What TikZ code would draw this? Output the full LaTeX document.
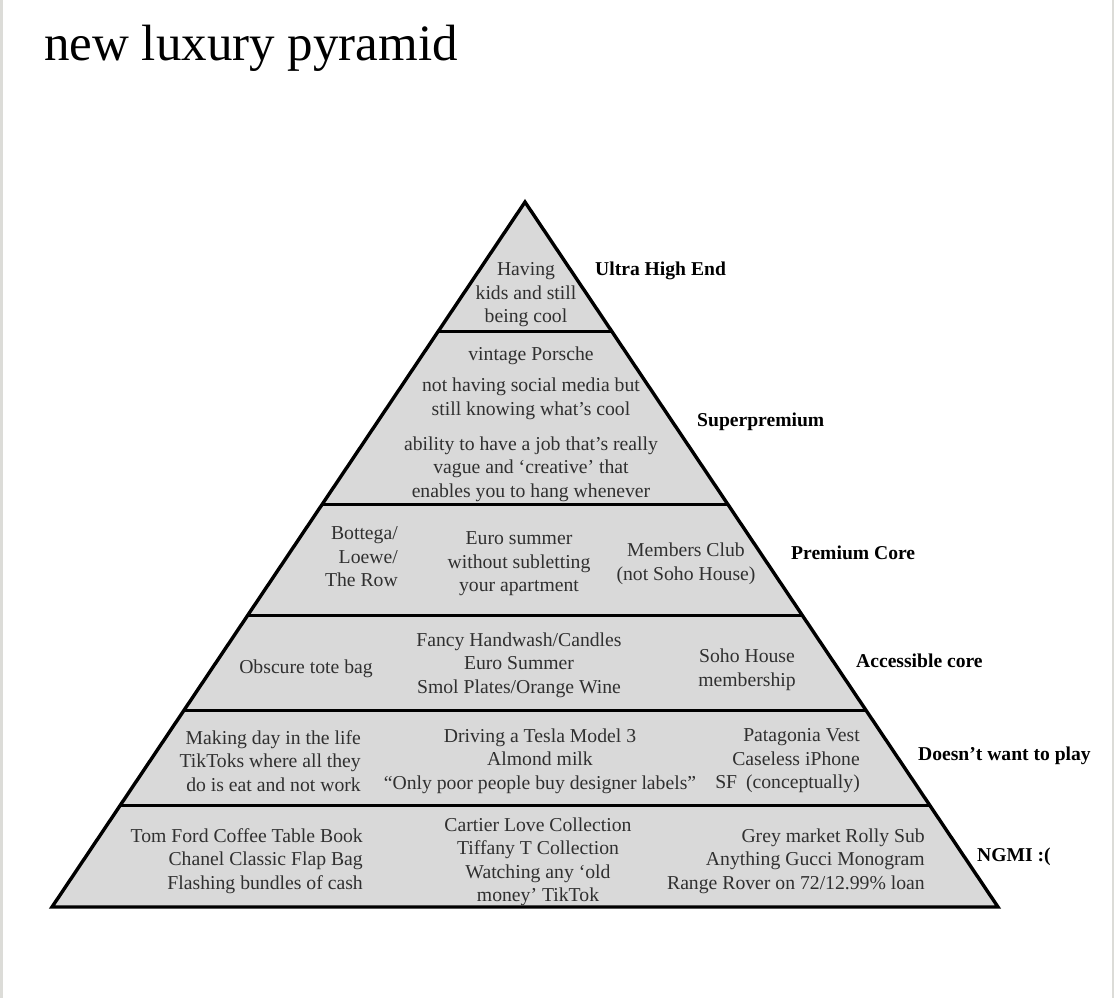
\documentclass[tikz,border=0pt]{standalone}
\usepackage{fontspec}
\setmainfont{Liberation Serif}
\usetikzlibrary{calc}
\definecolor{fillgray}{RGB}{217,217,217}
\definecolor{txtgray}{RGB}{48,48,48}
\definecolor{edgegray}{RGB}{220,220,216}
\begin{document}
\begin{tikzpicture}[x=1pt,y=-1pt,
  item/.style={inner sep=0pt,align=center,text=txtgray,font=\fontsize{19.7}{23.5}\selectfont},
  itemr/.style={item,align=right,anchor=east},
  tier/.style={inner sep=0pt,anchor=west,font=\fontsize{19.6}{23}\selectfont\bfseries}]
\useasboundingbox (0,0) rectangle (1114,998);
\fill[white] (0,0) rectangle (1114,998);
\fill[edgegray] (0,0) rectangle (2.5,998);
\fill[edgegray] (1111.5,0) rectangle (1114,998);

\node[inner sep=0pt,anchor=base west,font=\fontsize{51}{55}\selectfont] (title) at (44,61) {new luxury pyramid};

\coordinate (A) at (525,202);
\coordinate (BL) at (52,907);
\coordinate (BR) at (998,907);
\foreach \n/\y in {1/332,2/505,3/615,4/710,5/805}{
  \coordinate (L\n) at ($(A)!{(\y-202)/705}!(BL)$);
  \coordinate (R\n) at ($(A)!{(\y-202)/705}!(BR)$);
}
\fill[fillgray] (A) -- (BL) -- (BR) -- cycle;
\foreach \n in {1,...,5}{\draw[line width=3pt] (L\n) -- (R\n);}
\draw[line width=3.4pt,line join=miter] (A) -- (BL) -- (BR) -- cycle;

% tier 1
\node[item] (t1) at (526,295) {Having\\kids and still\\being cool};
% tier 2
\node[item] (t2a) at (531,356) {vintage Porsche};
\node[item] (t2b) at (531,399) {not having social media but\\still knowing what’s cool};
\node[item] (t2c) at (531,469) {ability to have a job that’s really\\vague and ‘creative’ that\\enables you to hang whenever};
% tier 3
\node[itemr] (t3a) at (398,557) {Bottega/\\Loewe/\\The Row};
\node[item] (t3b) at (519,564) {Euro summer\\without subletting\\your apartment};
\node[item] (t3c) at (686,564) {Members Club\\(not Soho House)};
% tier 4
\node[item] (t4a) at (306,669) {Obscure tote bag};
\node[item] (t4b) at (519,665) {Fancy Handwash/Candles\\Euro Summer\\Smol Plates/Orange Wine};
\node[item] (t4c) at (747,670) {Soho House\\membership};
% tier 5
\node[itemr] (t5a) at (361,761) {Making day in the life\\TikToks where all they\\do is eat and not work};
\node[item] (t5b) at (540,761) {Driving a Tesla Model 3\\Almond milk\\“Only poor people buy designer labels”};
\node[itemr] (t5c) at (860,761) {Patagonia Vest\\Caseless iPhone\\SF\hspace{0.45em}(conceptually)};
% tier 6
\node[itemr] (t6a) at (363,861) {Tom Ford Coffee Table Book\\Chanel Classic Flap Bag\\Flashing bundles of cash};
\node[item] (t6b) at (538,862) {Cartier Love Collection\\Tiffany T Collection\\Watching any ‘old\\money’ TikTok};
\node[itemr] (t6c) at (925,861) {Grey market Rolly Sub\\Anything Gucci Monogram\\Range Rover on 72/12.99\% loan};

% tier labels
\node[tier] (n1) at (595,271) {Ultra High End};
\node[tier] (n2) at (697,422) {Superpremium};
\node[tier] (n3) at (791,553) {Premium Core};
\node[tier] (n4) at (856,661) {Accessible core};
\node[tier] (n5) at (918,756) {Doesn’t want to play};
\node[tier] (n6) at (977,857) {NGMI :(};
\end{tikzpicture}
\end{document}
